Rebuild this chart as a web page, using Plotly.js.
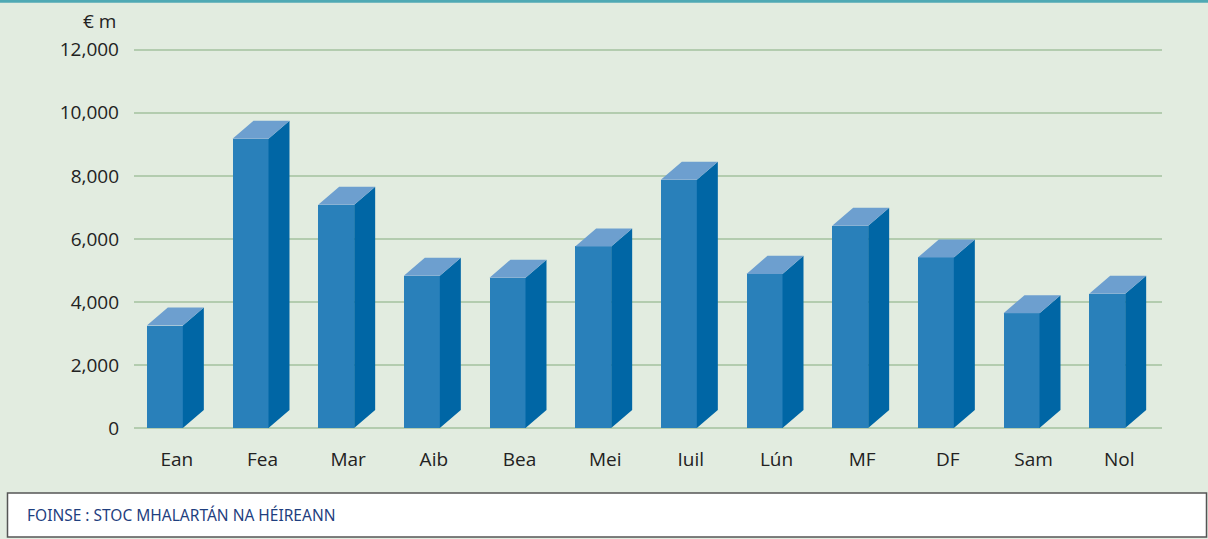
<!DOCTYPE html>
<html>
<head>
<meta charset="utf-8">
<script src="https://cdn.plot.ly/plotly-3.0.1.min.js"></script>
<style>
  html, body { margin: 0; padding: 0; background: #e2ece0; }
  #chart { width: 1208px; height: 539px; }
</style>
</head>
<body>
<div id="chart"></div>
<script>
// ---- Data ----
const months = ["Ean", "Fea", "Mar", "Aib", "Bea", "Mei", "Iuil", "Lún", "MF", "DF", "Sam", "Nol"];
const values = [3250, 9180, 7080, 4830, 4770, 5760, 7880, 4890, 6420, 5410, 3640, 4260];
const yTicks = [0, 2000, 4000, 6000, 8000, 10000, 12000];
const unitLabel = "€ m";
const sourceText = "FOINSE : STOC MHALARTÁN NA HÉIREANN";

// ---- Layout geometry ----
const W = 1208, H = 539;
const pxPerY = 378 / 12000;          // pixels per data unit on y
const yRange = [0, 12120];
const M = { l: 134, r: 46, b: 111 };
M.t = H - M.b - (yRange[1] - yRange[0]) * pxPerY;
const plotW = W - M.l - M.r, plotH = H - M.t - M.b;
const xRange = [-0.5, months.length - 0.5];
const pxPerX = plotW / (xRange[1] - xRange[0]);

// 3D bar look: front face offset/width (x units), depth in pixels converted to data units
const barOffset = -30 / pxPerX;
const barWidth = 36 / pxPerX;
const depthX = 21 / pxPerX;
const depthY = 18 / pxPerY;

const xs = months.map((_, i) => i);

const frontTrace = {
  type: "bar", x: xs, y: values,
  offset: barOffset, width: barWidth,
  marker: { color: "#2980ba", line: { width: 0 } },
  hoverinfo: "skip", showlegend: false
};

const sideX = [], sideY = [], topX = [], topY = [];
xs.forEach((x, i) => {
  const v = values[i];
  const xl = x + barOffset, xr = xl + barWidth;
  sideX.push(xr, xr + depthX, xr + depthX, xr, xr, null);
  sideY.push(0, depthY, v + depthY, v, 0, null);
  topX.push(xl, xl + depthX, xr + depthX, xr, xl, null);
  topY.push(v, v + depthY, v + depthY, v, v, null);
});

const sideTrace = {
  type: "scatter", mode: "lines", x: sideX, y: sideY,
  fill: "toself", fillcolor: "#0066a5", line: { width: 0, color: "#0066a5" },
  hoverinfo: "skip", showlegend: false, connectgaps: false
};
const topTrace = {
  type: "scatter", mode: "lines", x: topX, y: topY,
  fill: "toself", fillcolor: "#6d9fcf", line: { width: 0, color: "#6d9fcf" },
  hoverinfo: "skip", showlegend: false, connectgaps: false
};

const px2paperX = p => (p - M.l) / plotW;
const px2paperY = p => (H - M.b - p) / plotH;

const font = "'Open Sans', 'Noto Sans', sans-serif";

const layout = {
  width: W, height: H,
  margin: M,
  paper_bgcolor: "#e2ece0",
  plot_bgcolor: "#e2ece0",
  font: { family: font, color: "#222222", size: 19 },
  xaxis: {
    range: xRange, tickvals: xs, ticktext: months,
    showgrid: false, zeroline: false, showline: false, ticks: "",
    ticklabelstandoff: 18, fixedrange: true,
    tickfont: { family: font, size: 19, color: "#222222" }
  },
  yaxis: {
    range: yRange, tickvals: yTicks, tickformat: ",",
    showgrid: true, gridcolor: "#b3ccaf", gridwidth: 2.5,
    zeroline: true, zerolinecolor: "#b3ccaf", zerolinewidth: 2.5,
    showline: false, ticks: "", ticklabelstandoff: 14, fixedrange: true,
    tickfont: { family: font, size: 19, color: "#222222" }
  },
  bargap: 0,
  shapes: [
    { type: "rect", xref: "paper", yref: "paper",
      x0: px2paperX(0), x1: px2paperX(W), y0: px2paperY(3), y1: px2paperY(0),
      fillcolor: "#4fa9b4", line: { width: 0 }, layer: "above" },
    { type: "rect", xref: "paper", yref: "paper",
      x0: px2paperX(7.5), x1: px2paperX(1206.5), y0: px2paperY(537), y1: px2paperY(493),
      fillcolor: "#ffffff", line: { color: "#555555", width: 1.5 }, layer: "above" }
  ],
  annotations: [
    { text: unitLabel, xref: "paper", yref: "paper",
      x: px2paperX(118), y: px2paperY(21), xanchor: "right", yanchor: "middle",
      showarrow: false, font: { family: font, size: 19, color: "#222222" } },
    { text: sourceText, xref: "paper", yref: "paper",
      x: px2paperX(25), y: px2paperY(515), xanchor: "left", yanchor: "middle",
      showarrow: false, font: { family: "'Noto Sans', 'Open Sans', sans-serif", size: 15.5, color: "#1f3f7f" } }
  ]
};

Plotly.newPlot("chart", [frontTrace, sideTrace, topTrace], layout, { displayModeBar: false, staticPlot: true });
</script>
</body>
</html>
